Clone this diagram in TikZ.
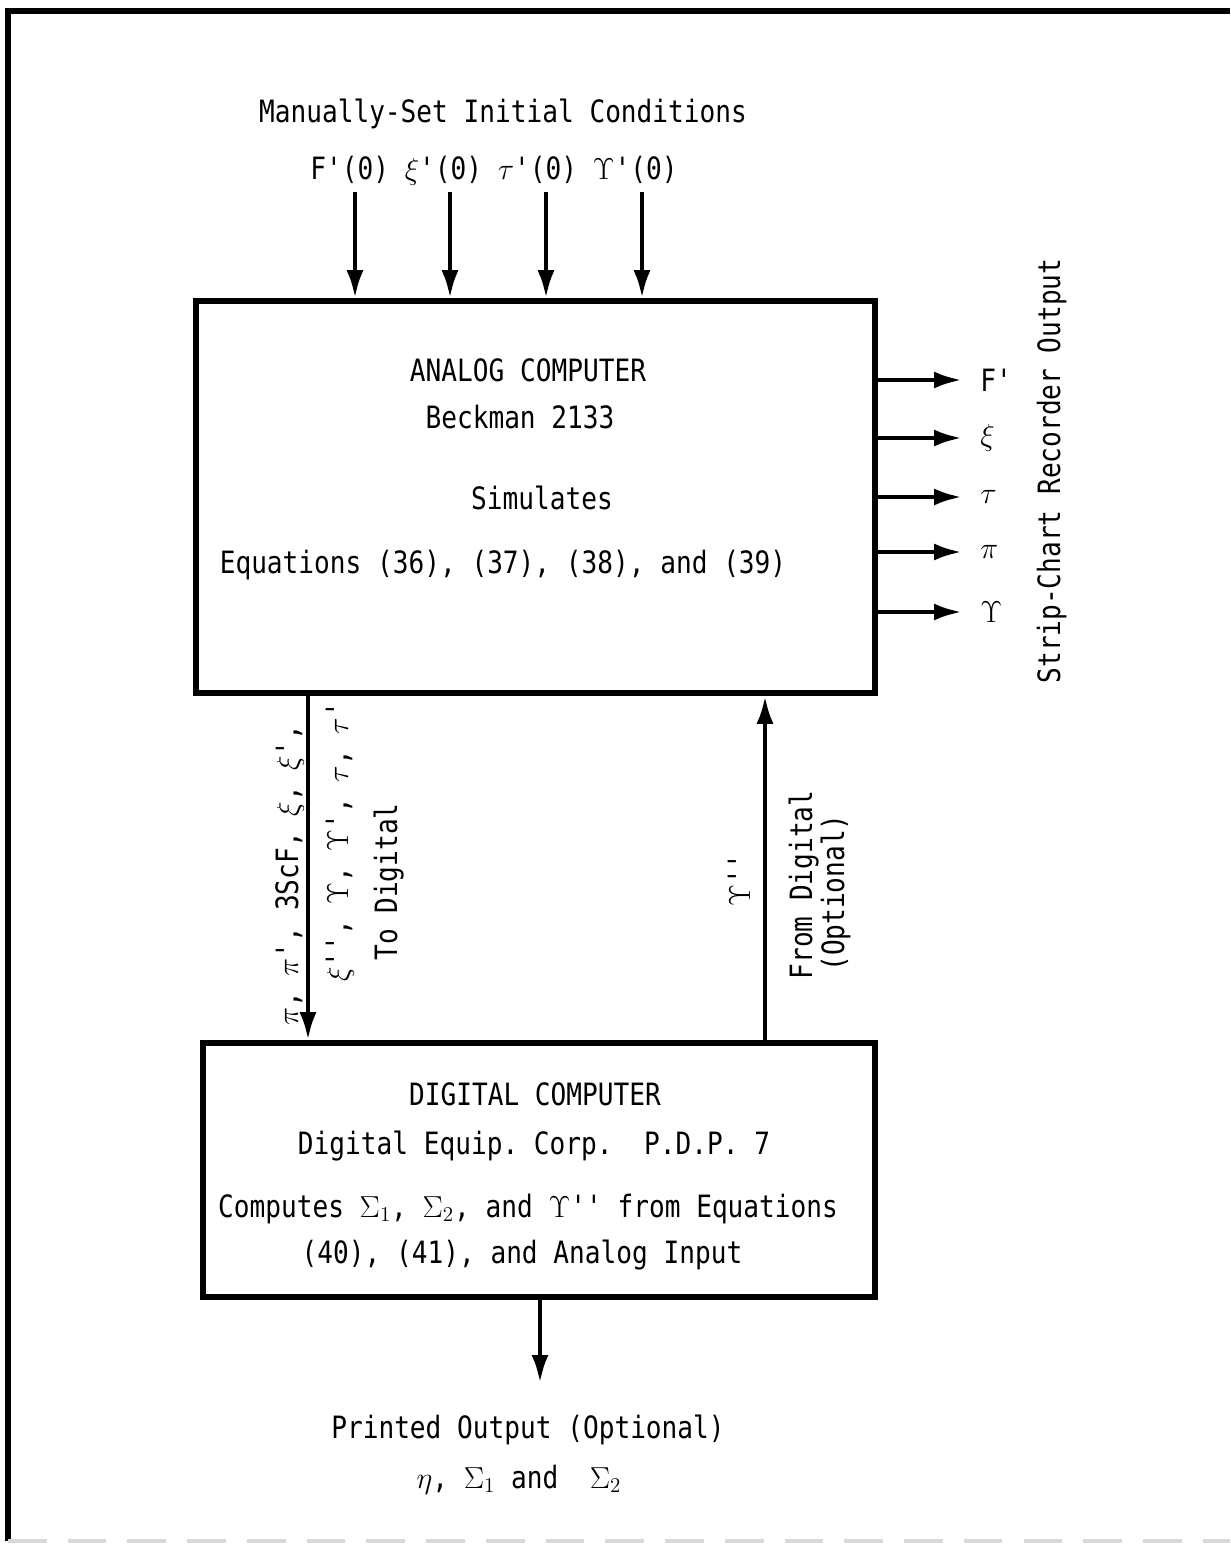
\documentclass[tikz,border=0pt]{standalone}
\usepackage{fontspec}
\setmonofont{DejaVu Sans Mono}[FakeStretch=0.85]
\usetikzlibrary{arrows.meta}
\frenchspacing

\begin{document}
\begin{tikzpicture}[x=0.02cm,y=-0.02cm,>={Latex[length=0.56cm,width=0.34cm]},
  every node/.style={font=\ttfamily\fontsize{17.5}{21}\selectfont,inner sep=0pt},
  box/.style={draw,line width=3.2pt,inner sep=0pt},
  flow/.style={->,line width=2.6pt},
  lab/.style={anchor=base},
  vlab/.style={anchor=base,rotate=90}]
\useasboundingbox (0,0) rectangle (1230,1547);
% page frame
\draw[line width=3pt] (8,1541) -- (8,11) -- (1230,11);
\draw[gray!30,line width=2pt,dash pattern=on 22pt off 12pt] (8,1541) -- (1230,1541);
% the two computers
\node[box,minimum width=13.58cm,minimum height=7.84cm] (ana) at (535.5,497) {};
\node[box,minimum width=13.44cm,minimum height=5.08cm] (dig) at (539,1170) {};
\node[lab] (ananame) at (528,381) {ANALOG COMPUTER};
\node[lab] (anatype) at (520,428) {Beckman 2133};
\node[lab] (simul) at (542,509) {Simulates};
\node[lab] (anaeq) at (503,573) {Equations (36), (37), (38), and (39)};
\node[lab] (digname) at (535,1105) {DIGITAL COMPUTER};
\node[lab] (digtype) at (534,1154) {Digital Equip. Corp.~~P.D.P. 7};
\node[lab] (digeq1) at (528,1217) {Computes $\Sigma_1$, $\Sigma_2$, and $\Upsilon$'' from Equations};
\node[lab] (digeq2) at (522,1263) {(40), (41), and Analog Input};
% initial conditions
\node[lab] (manual) at (503,123) {Manually-Set Initial Conditions};
\node[lab] (init) at (494,180) {F'(0) $\xi$'(0) $\tau$'(0) $\Upsilon$'(0)};
\foreach \x/\n in {355/fp,450/xi,546/tau,642/ups}{
  \coordinate (ic\n) at (\x,192);
  \draw[flow] (ic\n) -- (ic\n |- ana.north);}
% strip-chart outputs
\foreach \y/\txt/\n in {380/F'/fp,438/$\xi$/xi,497/$\tau$/tau,552/$\pi$/pi,612/$\Upsilon$/ups}{
  \node[anchor=west] (rec\n) at (980,\y) {\txt};
  \coordinate (oc\n) at (962,\y);
  \draw[flow] (ana.east |- oc\n) -- (oc\n);}
\node[vlab] (strip) at (1060,471) {Strip-Chart Recorder Output};
% analog <-> digital
\coordinate (dn) at (308,0);
\coordinate (up) at (765,0);
\draw[flow] (ana.south -| dn) -- (dig.north -| dn);
\draw[flow] (dig.north -| up) -- (ana.south -| up);
\node[vlab] (todig1) at (298,875) {$\pi$, $\pi$', 3ScF, $\xi$, $\xi$',};
\node[vlab] (todig2) at (348,842) {$\xi$'', $\Upsilon$, $\Upsilon$', $\tau$, $\tau$'};
\node[vlab] (todig3) at (397,882) {To Digital};
\node[vlab] (fromval) at (750,880) {$\Upsilon$''};
\node[vlab] (fromdig1) at (812,885) {From Digital};
\node[vlab] (fromdig2) at (844,893) {(Optional)};
% printed output
\coordinate (pr) at (540,1383);
\draw[flow] (dig.south -| pr) -- (pr);
\node[lab] (printed) at (528,1438) {Printed Output (Optional)};
\node[lab] (printvals) at (519,1488) {$\eta$, $\Sigma_1$ and~~$\Sigma_2$};
\end{tikzpicture}
\end{document}
